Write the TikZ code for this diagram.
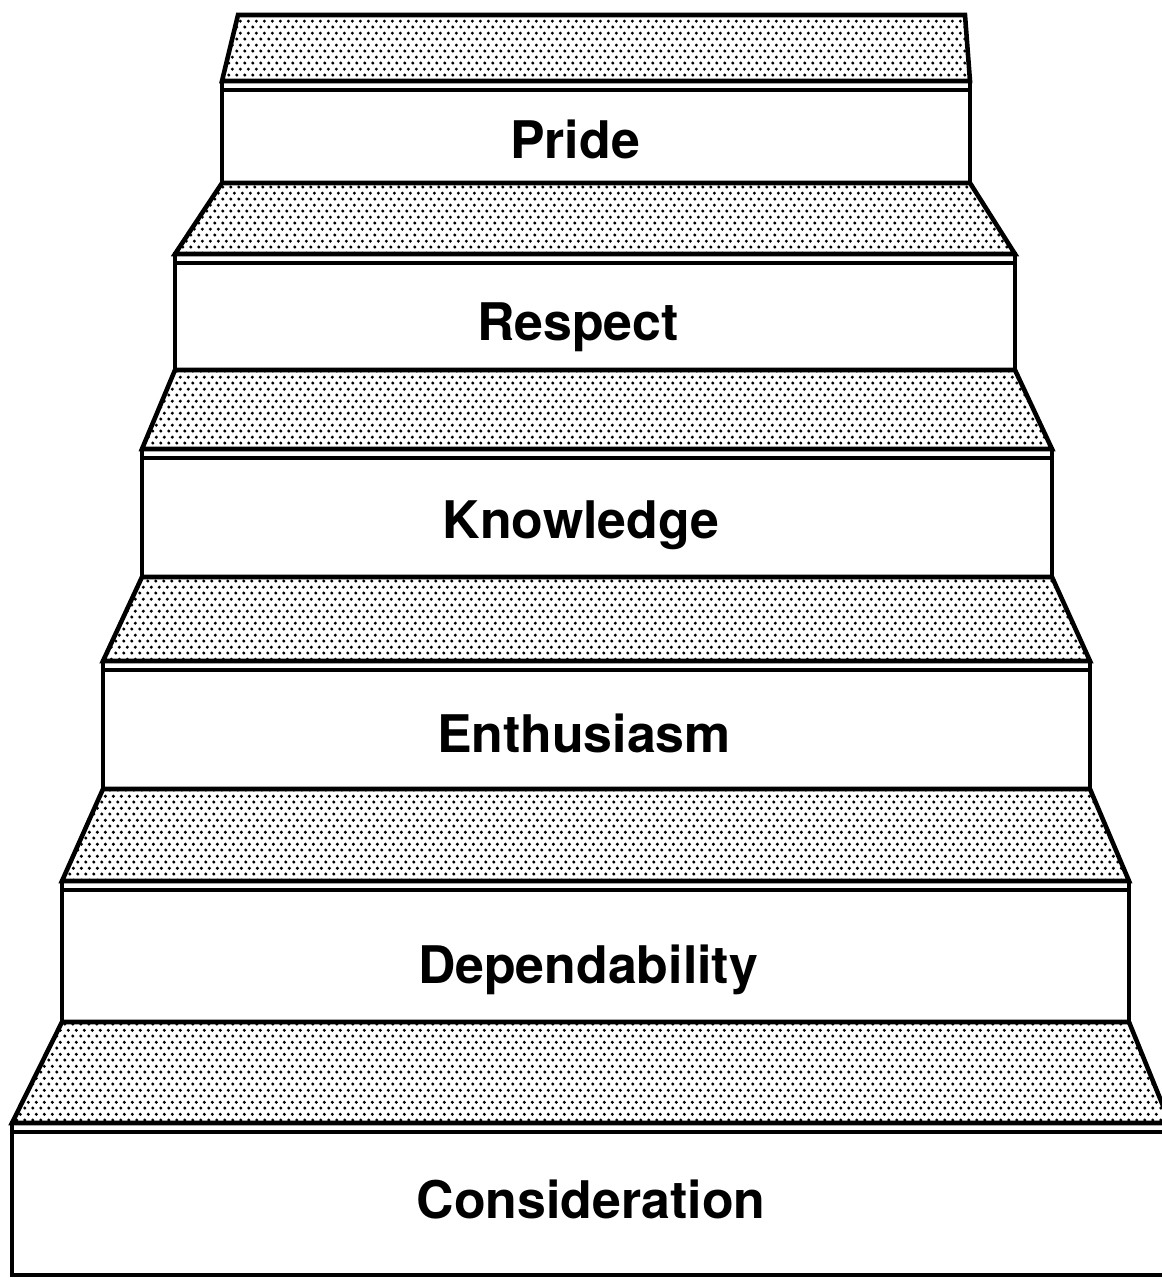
\documentclass[tikz,border=0pt]{standalone}
\usepackage{fontspec}
\setmainfont{TeX Gyre Heros}
\usetikzlibrary{patterns.meta}

% dotted screen for the treads
\tikzdeclarepattern{
    name=stipple,
    type=uncolored,
    bottom left={(0pt,0pt)},
    top right={(4.3pt,7pt)},
    tile size={(4.3pt,7pt)},
    code={
        \fill (1.075pt,1.75pt) circle (1pt);
        \fill (3.225pt,5.25pt) circle (1pt);
    }
}

\begin{document}
\begin{tikzpicture}[
    x=0.02cm, y=-0.02cm,
    tread/.style={draw=black, line width=2.6pt, pattern=stipple, pattern color=black},
    riser/.style={draw=black, line width=2.6pt, fill=white},
    seam/.style={draw=black, line width=2pt},
    lbl/.style={font=\fontsize{29.5}{32}\selectfont\bfseries, anchor=base, inner sep=0pt}
]
    \useasboundingbox (0,0) rectangle (1162,1282);
    \clip (0,0) rectangle (1162,1282);

    % one step = tread (top y, left, right), riser (top y, left, right, bottom y), label
    \foreach \ty/\tl/\tr/\by/\bl/\br/\ry/\tx/\base/\name/\word in {
        15/238/965/81/222/970/183/575/158/pride/Pride,
        183/222/970/254/175/1015/370/578/340/respect/Respect,
        370/175/1015/449/142/1052/577/581/538/knowledge/Knowledge,
        577/142/1052/661/103/1090/789/584/752/enthusiasm/Enthusiasm,
        789/103/1090/881/62/1129/1022/588/983/dependability/Dependability,
        1022/62/1129/1123/12/1170/1275/591/1218/consideration/Consideration}{
        \draw [riser] (\bl,\by) rectangle (\br,\ry);
        \draw [seam] (\bl,\by+9) -- (\br,\by+9);
        \draw [tread] (\tl,\ty) -- (\tr,\ty) -- (\br,\by) -- (\bl,\by) -- cycle;
        \node [lbl] (\name) at (\tx,\base) {\word};
    }
\end{tikzpicture}
\end{document}
